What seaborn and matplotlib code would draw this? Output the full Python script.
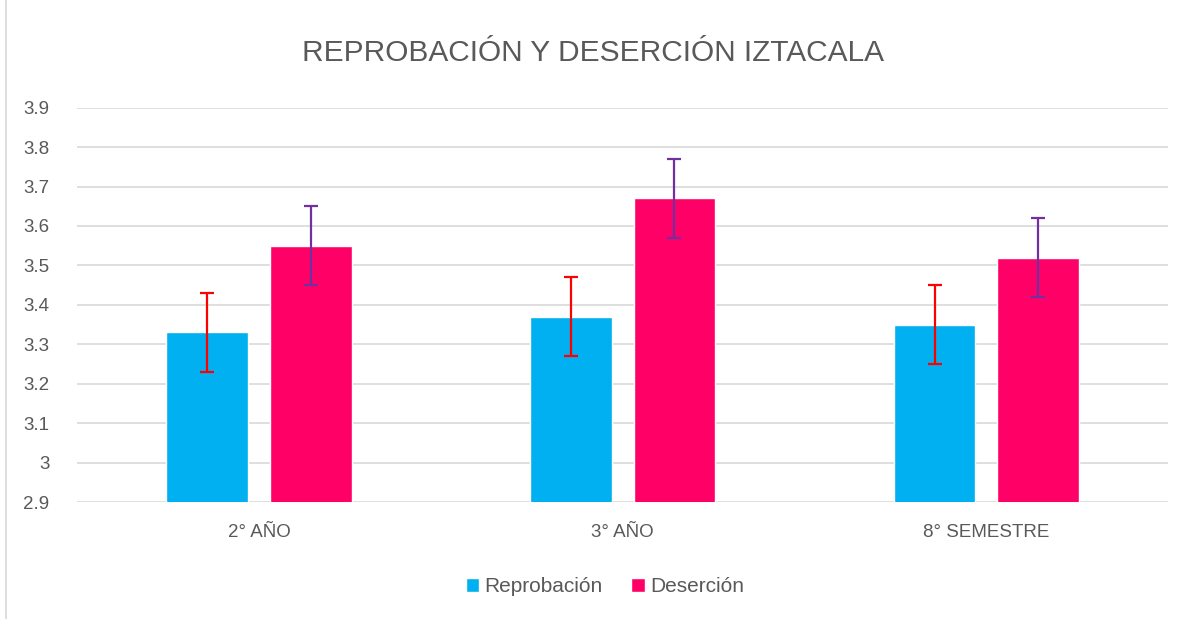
import pandas as pd
import numpy as np
import matplotlib.pyplot as plt
import seaborn as sns
from matplotlib.patches import Rectangle

# data
categories = ['2° AÑO', '3° AÑO', '8° SEMESTRE']
reprobacion = [3.33, 3.37, 3.35]
desercion = [3.55, 3.67, 3.52]
err_reprobacion = [0.1, 0.1, 0.1]
err_desercion = [0.1, 0.1, 0.1]
series = ['Reprobación', 'Deserción']

df = pd.DataFrame({
    'Categoria': categories * 2,
    'Serie': [series[0]] * 3 + [series[1]] * 3,
    'Valor': reprobacion + desercion,
})

sns.set_style('white')
plt.rcParams['font.family'] = ['Liberation Sans', 'DejaVu Sans']
gray = '#595959'

fig = plt.figure(figsize=(11.86, 6.19), dpi=100)
ax = fig.add_axes([0.065, 0.189, 0.92, 0.637])

palette = {'Reprobación': '#00B0F0', 'Deserción': '#FF0066'}
sns.barplot(data=df, x='Categoria', y='Valor', hue='Serie', palette=palette,
            width=0.57, gap=0.21, errorbar=None, saturation=1, ax=ax, zorder=2)

# custom error bars, centred on the drawn bars
bars = [p for p in ax.patches if isinstance(p, Rectangle) and p.get_height() > 0][:6]
xs = [b.get_x() + b.get_width() / 2 for b in bars]
ax.errorbar(xs[:3], reprobacion, yerr=err_reprobacion, fmt='none',
            ecolor='#FF0000', elinewidth=1.6, capsize=5, capthick=1.6, zorder=3)
ax.errorbar(xs[3:], desercion, yerr=err_desercion, fmt='none',
            ecolor='#7030A0', elinewidth=1.6, capsize=5, capthick=1.6, zorder=3)

ax.set_xlim(-0.5, 2.5)
ax.set_ylim(2.9, 3.9)
ax.set_yticks(np.arange(2.9, 3.91, 0.1))
ax.set_yticklabels(['2.9', '3', '3.1', '3.2', '3.3', '3.4', '3.5', '3.6', '3.7', '3.8', '3.9'])
ax.yaxis.grid(True, color='#D9D9D9', linewidth=1.2, zorder=0)
ax.set_axisbelow(True)
for s in ax.spines.values():
    s.set_visible(False)
ax.tick_params(axis='both', length=0, labelsize=13.5, colors=gray)
ax.tick_params(axis='x', pad=16)
ax.tick_params(axis='y', pad=20)
ax.set_xlabel('')
ax.set_ylabel('')

fig.suptitle('REPROBACIÓN Y DESERCIÓN IZTACALA', y=0.937, fontsize=21.5, color=gray)

handles, labels = ax.get_legend_handles_labels()
ax.legend(handles, labels, loc='center', bbox_to_anchor=(0.51, 0.052),
          bbox_transform=fig.transFigure, ncol=2, frameon=False, fontsize=15,
          handlelength=0.67, handleheight=0.67, handletextpad=0.25, columnspacing=1.35,
          labelcolor=gray)

# chart frame
fig.patches.append(Rectangle((0.005, -0.01), 1.2, 1.2, transform=fig.transFigure,
                             fill=False, edgecolor='#D9D9D9', linewidth=1.2))

fig.savefig('out.png', dpi=100)
